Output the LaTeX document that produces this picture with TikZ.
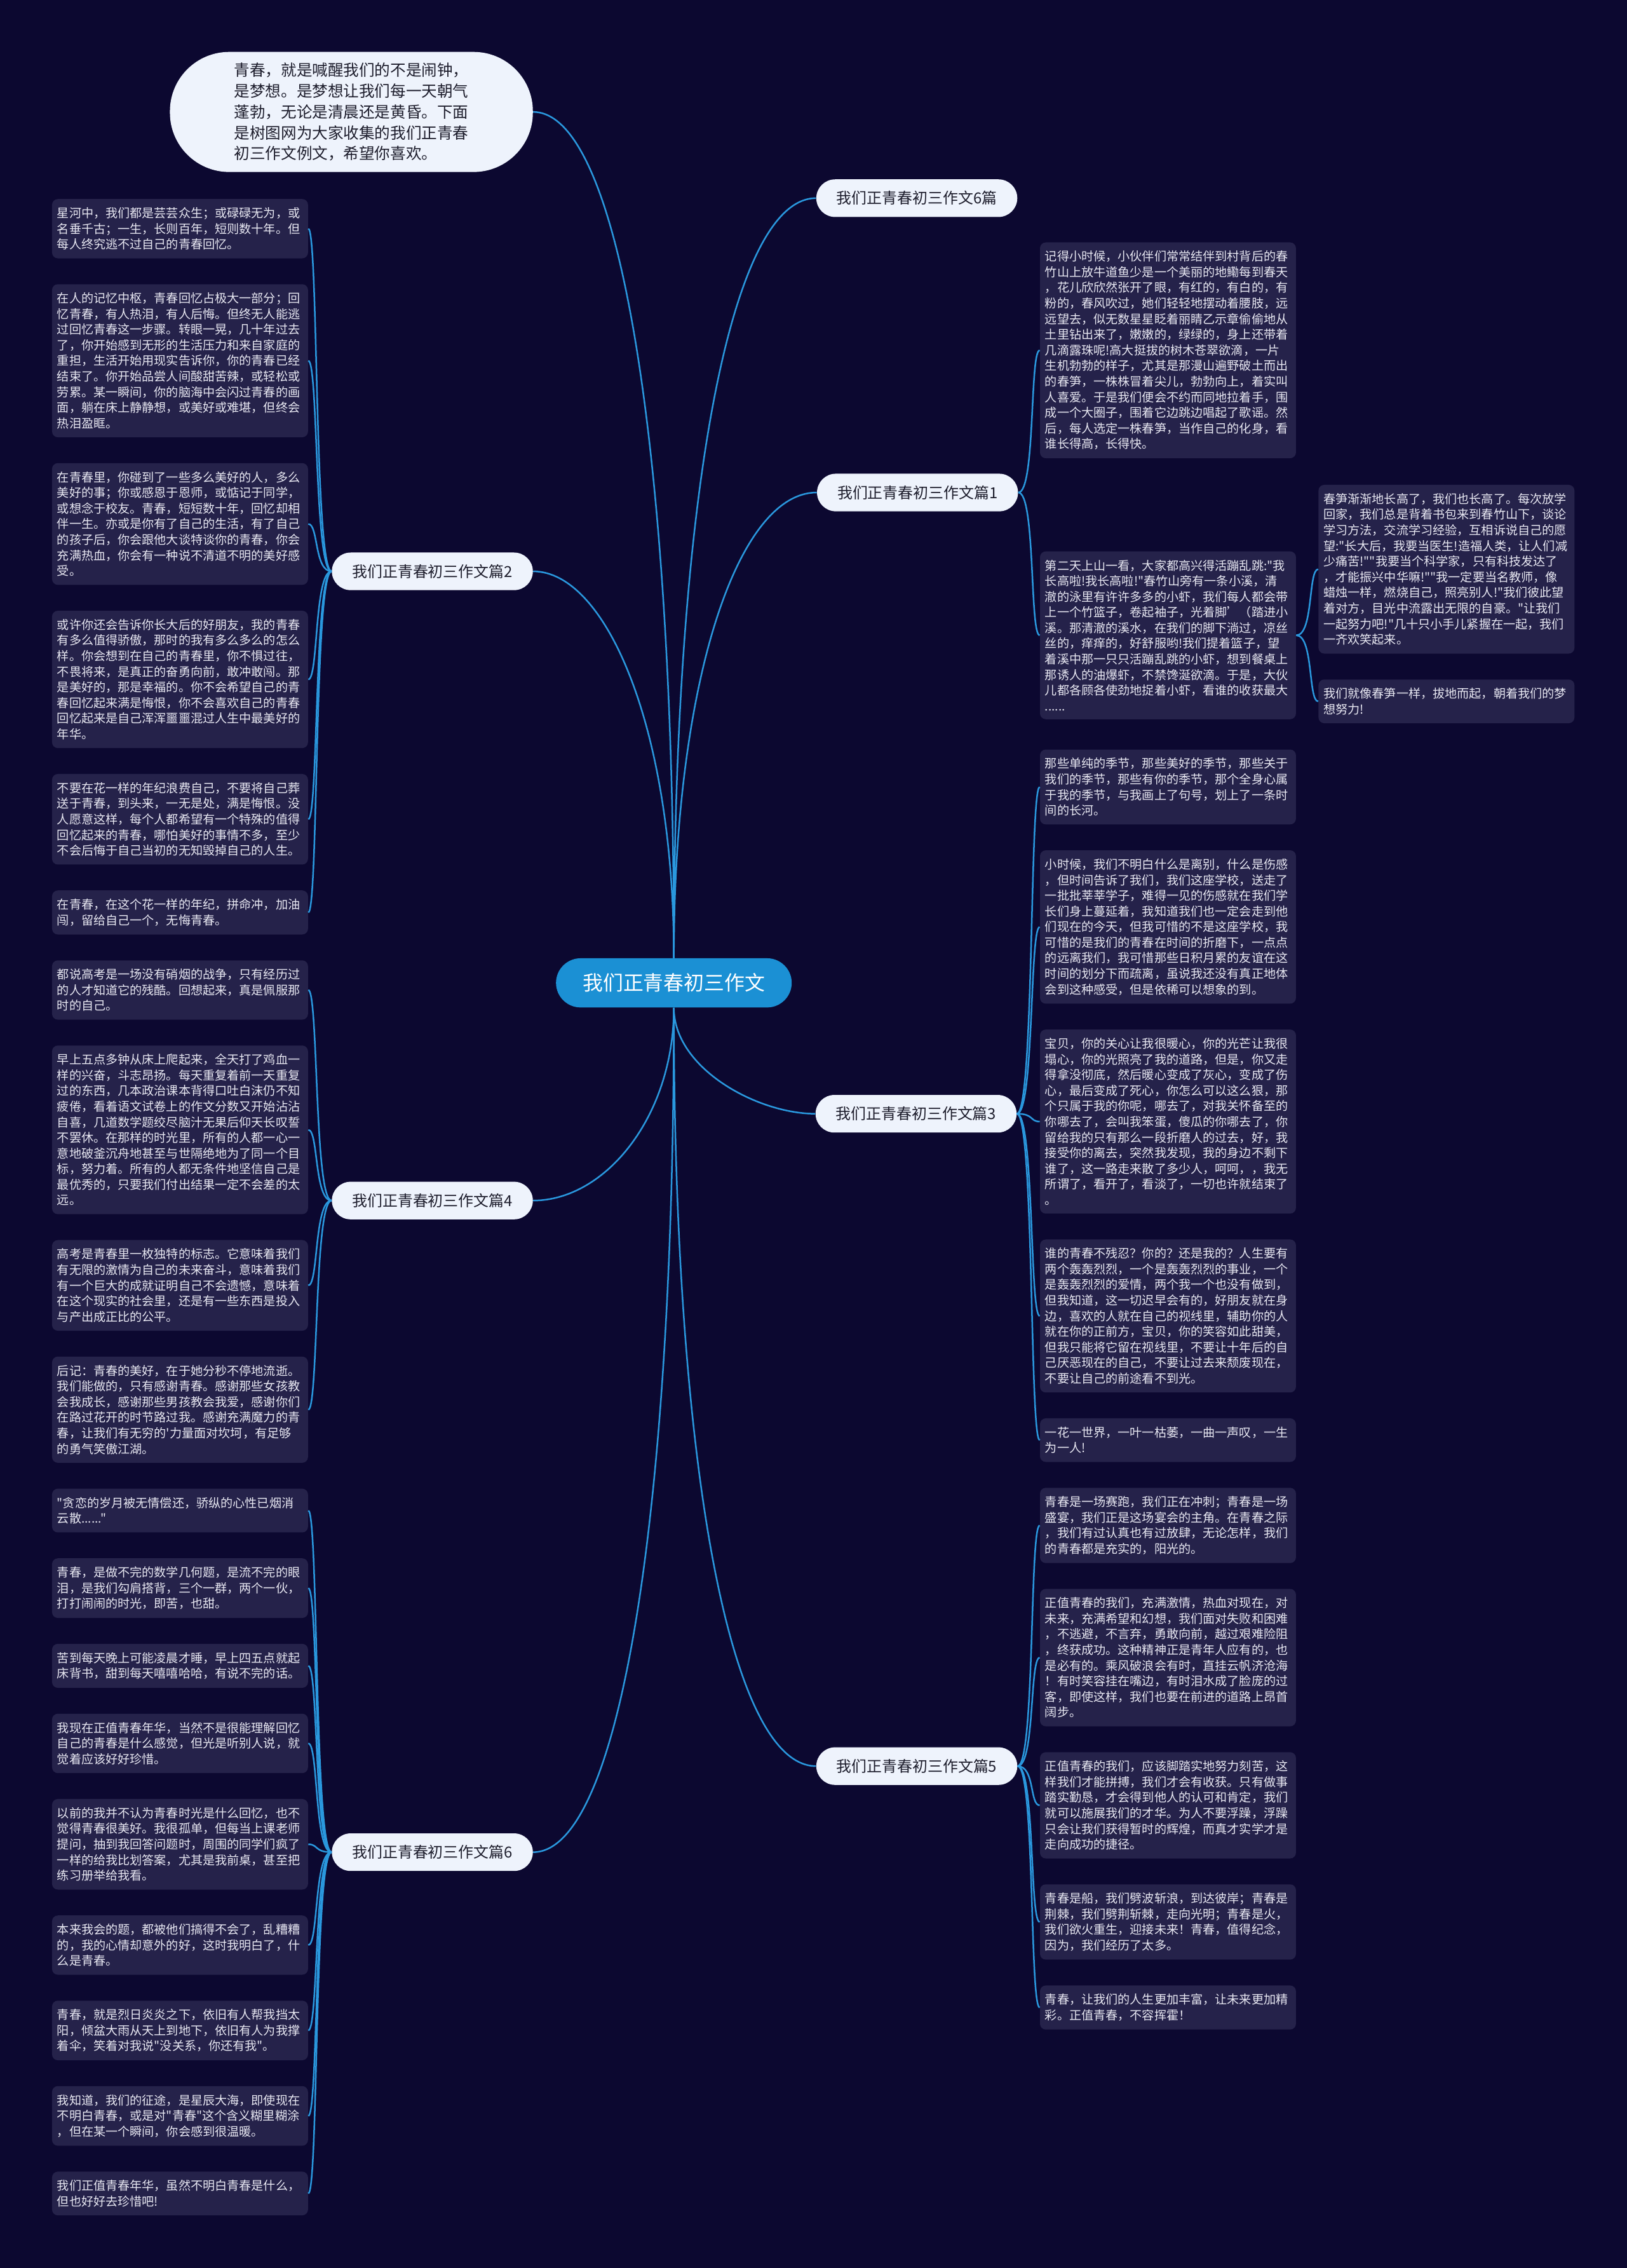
\documentclass[tikz,border=0pt]{standalone}
\usepackage{fontspec}
\setmainfont{Noto Sans CJK SC}
\newfontfamily\cjkfont{Noto Sans CJK SC}
\usetikzlibrary{positioning}

\definecolor{bgc}{RGB}{12,8,48}
\definecolor{boxc}{RGB}{37,34,74}
\definecolor{leaftext}{RGB}{232,232,242}
\definecolor{linkc}{RGB}{42,152,222}
\definecolor{hubc}{RGB}{27,144,212}
\definecolor{branchc}{RGB}{238,243,252}
\definecolor{branchtext}{RGB}{30,30,45}

\begin{document}
\begin{tikzpicture}[x=1pt,y=-1pt,
  leaf/.style={fill=boxc,rounded corners=4pt,text=leaftext,text width=170pt,align=left,
    inner xsep=3.5pt,inner ysep=5.8pt,font=\cjkfont\fontsize{8.4}{10.8}\selectfont},
  branch/.style={fill=branchc,rounded corners=13pt,text=branchtext,minimum width=139pt,
    minimum height=26pt,inner sep=0pt,font=\cjkfont\fontsize{10.5}{12}\selectfont},
  link/.style={draw=linkc,line width=1.1pt},
  node distance=17.5pt]

    \useasboundingbox (0,0) rectangle (1125,1568);
    \fill[bgc] (0,0) rectangle (1125,1568);

    \node[fill=hubc,rounded corners=17pt,minimum width=163pt,minimum height=34pt,text=white,
        font=\cjkfont\fontsize{14}{16}\selectfont] (hub) at (466,679.5) {我们正青春初三作文};

    \node[fill=branchc,rounded corners=41pt,minimum width=251pt,minimum height=83pt,
        text=branchtext,align=left,font=\cjkfont\fontsize{10.8}{14.4}\selectfont] (intro) at (243,77.4)
        {青春，就是喊醒我们的不是闹钟，\\是梦想。是梦想让我们每一天朝气\\蓬勃，无论是清晨还是黄昏。下面\\是树图网为大家收集的我们正青春\\初三作文例文，希望你喜欢。};

    \node[branch] (pa) at (634,137) {我们正青春初三作文6篇};
    \node[branch] (p1) at (634.5,340.5) {我们正青春初三作文篇1};
    \node[branch] (p2) at (299,395) {我们正青春初三作文篇2};
    \node[branch] (p3) at (633.5,770) {我们正青春初三作文篇3};
    \node[branch] (p4) at (299,830) {我们正青春初三作文篇4};
    \node[branch] (p5) at (634,1221) {我们正青春初三作文篇5};
    \node[branch] (p6) at (299,1280.5) {我们正青春初三作文篇6};

    \node[leaf,anchor=north] (l1) at (124.5,137.4) {星河中，我们都是芸芸众生；或碌碌无为，或\\名垂千古；一生，长则百年，短则数十年。但\\每人终究逃不过自己的青春回忆。};
    \node[leaf,below=of l1] (l2) {在人的记忆中枢，青春回忆占极大一部分；回\\忆青春，有人热泪，有人后悔。但终无人能逃\\过回忆青春这一步骤。转眼一晃，几十年过去\\了，你开始感到无形的生活压力和来自家庭的\\重担，生活开始用现实告诉你，你的青春已经\\结束了。你开始品尝人间酸甜苦辣，或轻松或\\劳累。某一瞬间，你的脑海中会闪过青春的画\\面，躺在床上静静想，或美好或难堪，但终会\\热泪盈眶。};
    \node[leaf,below=of l2] (l3) {在青春里，你碰到了一些多么美好的人，多么\\美好的事；你或感恩于恩师，或惦记于同学，\\或想念于校友。青春，短短数十年，回忆却相\\伴一生。亦或是你有了自己的生活，有了自己\\的孩子后，你会跟他大谈特谈你的青春，你会\\充满热血，你会有一种说不清道不明的美好感\\受。};
    \node[leaf,below=of l3] (l4) {或许你还会告诉你长大后的好朋友，我的青春\\有多么值得骄傲，那时的我有多么多么的怎么\\样。你会想到在自己的青春里，你不惧过往，\\不畏将来，是真正的奋勇向前，敢冲敢闯。那\\是美好的，那是幸福的。你不会希望自己的青\\春回忆起来满是悔恨，你不会喜欢自己的青春\\回忆起来是自己浑浑噩噩混过人生中最美好的\\年华。};
    \node[leaf,below=of l4] (l5) {不要在花一样的年纪浪费自己，不要将自己葬\\送于青春，到头来，一无是处，满是悔恨。没\\人愿意这样，每个人都希望有一个特殊的值得\\回忆起来的青春，哪怕美好的事情不多，至少\\不会后悔于自己当初的无知毁掉自己的人生。};
    \node[leaf,below=of l5] (l6) {在青春，在这个花一样的年纪，拼命冲，加油\\闯，留给自己一个，无悔青春。};
    \node[leaf,below=of l6] (l7) {都说高考是一场没有硝烟的战争，只有经历过\\的人才知道它的残酷。回想起来，真是佩服那\\时的自己。};
    \node[leaf,below=of l7] (l8) {早上五点多钟从床上爬起来，全天打了鸡血一\\样的兴奋，斗志昂扬。每天重复着前一天重复\\过的东西，几本政治课本背得口吐白沫仍不知\\疲倦，看着语文试卷上的作文分数又开始沾沾\\自喜，几道数学题绞尽脑汁无果后仰天长叹誓\\不罢休。在那样的时光里，所有的人都一心一\\意地破釜沉舟地甚至与世隔绝地为了同一个目\\标，努力着。所有的人都无条件地坚信自己是\\最优秀的，只要我们付出结果一定不会差的太\\远。};
    \node[leaf,below=of l8] (l9) {高考是青春里一枚独特的标志。它意味着我们\\有无限的激情为自己的未来奋斗，意味着我们\\有一个巨大的成就证明自己不会遗憾，意味着\\在这个现实的社会里，还是有一些东西是投入\\与产出成正比的公平。};
    \node[leaf,below=of l9] (l10) {后记：青春的美好，在于她分秒不停地流逝。\\我们能做的，只有感谢青春。感谢那些女孩教\\会我成长，感谢那些男孩教会我爱，感谢你们\\在路过花开的时节路过我。感谢充满魔力的青\\春，让我们有无穷的'力量面对坎坷，有足够\\的勇气笑傲江湖。};
    \node[leaf,below=of l10] (l11) {"贪恋的岁月被无情偿还，骄纵的心性已烟消\\云散......"};
    \node[leaf,below=of l11] (l12) {青春，是做不完的数学几何题，是流不完的眼\\泪，是我们勾肩搭背，三个一群，两个一伙，\\打打闹闹的时光，即苦，也甜。};
    \node[leaf,below=of l12] (l13) {苦到每天晚上可能凌晨才睡，早上四五点就起\\床背书，甜到每天嘻嘻哈哈，有说不完的话。};
    \node[leaf,below=of l13] (l14) {我现在正值青春年华，当然不是很能理解回忆\\自己的青春是什么感觉，但光是听别人说，就\\觉着应该好好珍惜。};
    \node[leaf,below=of l14] (l15) {以前的我并不认为青春时光是什么回忆，也不\\觉得青春很美好。我很孤单，但每当上课老师\\提问，抽到我回答问题时，周围的同学们疯了\\一样的给我比划答案，尤其是我前桌，甚至把\\练习册举给我看。};
    \node[leaf,below=of l15] (l16) {本来我会的题，都被他们搞得不会了，乱糟糟\\的，我的心情却意外的好，这时我明白了，什\\么是青春。};
    \node[leaf,below=of l16] (l17) {青春，就是烈日炎炎之下，依旧有人帮我挡太\\阳，倾盆大雨从天上到地下，依旧有人为我撑\\着伞，笑着对我说"没关系，你还有我"。};
    \node[leaf,below=of l17] (l18) {我知道，我们的征途，是星辰大海，即使现在\\不明白青春，或是对"青春"这个含义糊里糊涂\\，但在某一个瞬间，你会感到很温暖。};
    \node[leaf,below=of l18] (l19) {我们正值青春年华，虽然不明白青春是什么，\\但也好好去珍惜吧!};

    \node[leaf,anchor=north] (r1) at (807.7,167.4) {记得小时候，小伙伴们常常结伴到村背后的春\\竹山上放牛道鱼少是一个美丽的地鰳每到春天\\，花儿欣欣然张开了眼，有红的，有白的，有\\粉的，春风吹过，她们轻轻地摆动着腰肢，远\\远望去，似无数星星眨着丽睛乙示章偷偷地从\\土里钻出来了，嫩嫩的，绿绿的，身上还带着\\几滴露珠呢!高大挺拔的树木苍翠欲滴，一片\\生机勃勃的样子，尤其是那漫山遍野破土而出\\的春笋，一株株冒着尖儿，勃勃向上，着实叫\\人喜爱。于是我们便会不约而同地拉着手，围\\成一个大圈子，围着它边跳边唱起了歌谣。然\\后，每人选定一株春笋，当作自己的化身，看\\谁长得高，长得快。};
    \node[leaf,anchor=north] (r2) at (807.7,381) {第二天上山一看，大家都高兴得活蹦乱跳:"我\\长高啦!我长高啦!"春竹山旁有一条小溪，清\\澈的泳里有许许多多的小虾，我们每人都会带\\上一个竹篮子，卷起袖子，光着脚’（踏进小\\溪。那清澈的溪水，在我们的脚下淌过，凉丝\\丝的，痒痒的，好舒服哟!我们提着篮子，望\\着溪中那一只只活蹦乱跳的小虾，想到餐桌上\\那诱人的油爆虾，不禁馋涎欲滴。于是，大伙\\儿都各顾各使劲地捉着小虾，看谁的收获最大\\......};
    \node[leaf,anchor=north] (f1) at (1000.3,335) {春笋渐渐地长高了，我们也长高了。每次放学\\回家，我们总是背着书包来到春竹山下，谈论\\学习方法，交流学习经验，互相诉说自己的愿\\望:"长大后，我要当医生!造福人类，让人们减\\少痛苦!""我要当个科学家，只有科技发达了\\，才能振兴中华嘛!""我一定要当名教师，像\\蜡烛一样，燃烧自己，照亮别人!"我们彼此望\\着对方，目光中流露出无限的自豪。"让我们\\一起努力吧!"几十只小手儿紧握在一起，我们\\一齐欢笑起来。};
    \node[leaf,below=of f1] (f2) {我们就像春笋一样，拔地而起，朝着我们的梦\\想努力!};

    \node[leaf,anchor=north] (r3) at (807.7,518) {那些单纯的季节，那些美好的季节，那些关于\\我们的季节，那些有你的季节，那个全身心属\\于我的季节，与我画上了句号，划上了一条时\\间的长河。};
    \node[leaf,below=of r3] (r4) {小时候，我们不明白什么是离别，什么是伤感\\，但时间告诉了我们，我们这座学校，送走了\\一批批莘莘学子，难得一见的伤感就在我们学\\长们身上蔓延着，我知道我们也一定会走到他\\们现在的今天，但我可惜的不是这座学校，我\\可惜的是我们的青春在时间的折磨下，一点点\\的远离我们，我可惜那些日积月累的友谊在这\\时间的划分下而疏离，虽说我还没有真正地体\\会到这种感受，但是依稀可以想象的到。};
    \node[leaf,below=of r4] (r5) {宝贝，你的关心让我很暖心，你的光芒让我很\\塌心，你的光照亮了我的道路，但是，你又走\\得拿没彻底，然后暖心变成了灰心，变成了伤\\心，最后变成了死心，你怎么可以这么狠，那\\个只属于我的你呢，哪去了，对我关怀备至的\\你哪去了，会叫我笨蛋，傻瓜的你哪去了，你\\留给我的只有那么一段折磨人的过去，好，我\\接受你的离去，突然我发现，我的身边不剩下\\谁了，这一路走来散了多少人，呵呵，，我无\\所谓了，看开了，看淡了，一切也许就结束了\\。};
    \node[leaf,below=of r5] (r6) {谁的青春不残忍？你的？还是我的？人生要有\\两个轰轰烈烈，一个是轰轰烈烈的事业，一个\\是轰轰烈烈的爱情，两个我一个也没有做到，\\但我知道，这一切迟早会有的，好朋友就在身\\边，喜欢的人就在自己的视线里，辅助你的人\\就在你的正前方，宝贝，你的笑容如此甜美，\\但我只能将它留在视线里，不要让十年后的自\\己厌恶现在的自己，不要让过去来颓废现在，\\不要让自己的前途看不到光。};
    \node[leaf,below=of r6] (r7) {一花一世界，一叶一枯萎，一曲一声叹，一生\\为一人!};
    \node[leaf,below=of r7] (r8) {青春是一场赛跑，我们正在冲刺；青春是一场\\盛宴，我们正是这场宴会的主角。在青春之际\\，我们有过认真也有过放肆，无论怎样，我们\\的青春都是充实的，阳光的。};
    \node[leaf,below=of r8] (r9) {正值青春的我们，充满激情，热血对现在，对\\未来，充满希望和幻想，我们面对失败和困难\\，不逃避，不言弃，勇敢向前，越过艰难险阻\\，终获成功。这种精神正是青年人应有的，也\\是必有的。乘风破浪会有时，直挂云帆济沧海\\！有时笑容挂在嘴边，有时泪水成了脸庞的过\\客，即使这样，我们也要在前进的道路上昂首\\阔步。};
    \node[leaf,below=of r9] (r10) {正值青春的我们，应该脚踏实地努力刻苦，这\\样我们才能拼搏，我们才会有收获。只有做事\\踏实勤恳，才会得到他人的认可和肯定，我们\\就可以施展我们的才华。为人不要浮躁，浮躁\\只会让我们获得暂时的辉煌，而真才实学才是\\走向成功的捷径。};
    \node[leaf,below=of r10] (r11) {青春是船，我们劈波斩浪，到达彼岸；青春是\\荆棘，我们劈荆斩棘，走向光明；青春是火，\\我们欲火重生，迎接未来！青春，值得纪念，\\因为，我们经历了太多。};
    \node[leaf,below=of r11] (r12) {青春，让我们的人生更加丰富，让未来更加精\\彩。正值青春，不容挥霍！};

    \draw[link] (hub.north) .. controls +(0,-350) and +(60,0) .. (intro.east);
    \draw[link] (hub.north) .. controls +(0,-160) and +(50,0) .. (p2.east);
    \draw[link] (hub.north) .. controls +(0,-314) and +(-60,0) .. (pa.west);
    \draw[link] (hub.north) .. controls +(0,-190) and +(-55,0) .. (p1.west);
    \draw[link] (hub.south) .. controls +(0,42) and +(-40,0) .. (p3.west);
    \draw[link] (hub.south) .. controls +(0,75) and +(50,0) .. (p4.east);
    \draw[link] (hub.south) .. controls +(0,314) and +(-60,0) .. (p5.west);
    \draw[link] (hub.south) .. controls +(0,350) and +(60,0) .. (p6.east);

    \foreach \n in {1,2}
        \draw[link] (p1.east) .. controls +(12,0) and +(-7,0) .. (r\n.west);
    \foreach \n in {1,2}
        \draw[link] (r2.east) .. controls +(12,0) and +(-7,0) .. (f\n.west);
    \foreach \n in {1,...,6}
        \draw[link] (p2.west) .. controls +(-12,0) and +(7,0) .. (l\n.east);
    \foreach \n in {3,...,7}
        \draw[link] (p3.east) .. controls +(12,0) and +(-7,0) .. (r\n.west);
    \foreach \n in {7,...,10}
        \draw[link] (p4.west) .. controls +(-12,0) and +(7,0) .. (l\n.east);
    \foreach \n in {8,...,12}
        \draw[link] (p5.east) .. controls +(12,0) and +(-7,0) .. (r\n.west);
    \foreach \n in {11,...,19}
        \draw[link] (p6.west) .. controls +(-12,0) and +(7,0) .. (l\n.east);

\end{tikzpicture}
\end{document}
